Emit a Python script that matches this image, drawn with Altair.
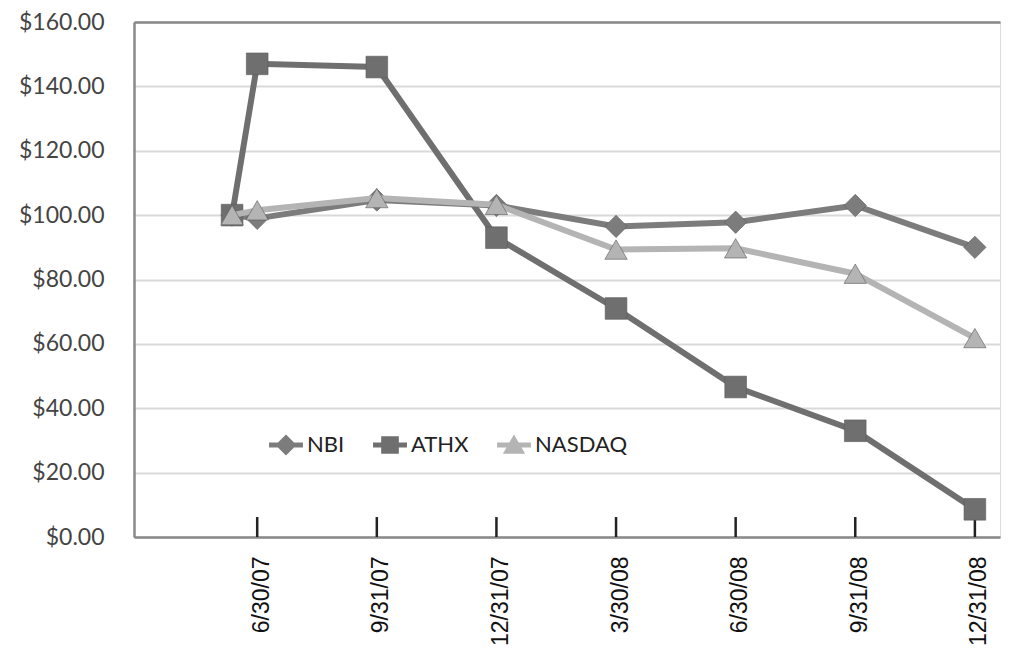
import altair as alt
import pandas as pd

# ---- data ----
tick_labels = ["6/30/07", "9/31/07", "12/31/07", "3/30/08", "6/30/08", "9/31/08", "12/31/08"]
x_pos = [-0.21, 0, 1, 2, 3, 4, 5, 6]  # first point is the starting value just before 6/30/07
nbi = [100, 99, 104.7, 103, 96.5, 97.8, 103, 90]
athx = [100, 147, 146, 93, 71, 46.6, 33, 8.6]
nasdaq = [100, 101.5, 105.3, 103.2, 89.3, 89.7, 81.8, 61.8]

series_names = ["NBI", "ATHX", "NASDAQ"]
series_vals = [nbi, athx, nasdaq]
colors = ["#7c7c7c", "#6f6f6f", "#b4b4b4"]
shapes = ["diamond", "square", "triangle-up"]
sizes = [500, 470, 500]

rows = []
for name, vals in zip(series_names, series_vals):
    for x, v in zip(x_pos, vals):
        rows.append({"series": name, "x": x, "value": v})
df = pd.DataFrame(rows)

ticks_df = pd.DataFrame({"x": list(range(len(tick_labels)))})

label_expr = "[" + ",".join("'" + t + "'" for t in tick_labels) + "][round(datum.value)]"

x_scale = alt.Scale(domain=[-1.03, 6.21], nice=False, zero=False)
y_scale = alt.Scale(domain=[0, 160], nice=False)

x_axis = alt.Axis(
    orient="bottom",
    values=list(range(len(tick_labels))), labelExpr=label_expr, title=None,
    labelAngle=270, labelAlign="right", labelBaseline="middle", labelPadding=19,
    labelOffset=4,
    labelFont="Liberation Sans", labelFontSize=23, labelColor="#111111",
    ticks=False, grid=False, domainColor="#8a8a8a", domainWidth=2.5,
)
y_axis = alt.Axis(
    values=list(range(0, 161, 20)), format="$,.2f", title=None,
    labelFont="Lato", labelFontSize=23, labelColor="#444444", labelPadding=30,
    ticks=False, grid=True, gridColor="#d9d9d9", gridWidth=2,
    domainColor="#8a8a8a", domainWidth=2.5,
)

layers = []

# inward tick marks on the x axis
ticks = alt.Chart(ticks_df).mark_rule(color="#222222", strokeWidth=2.5).encode(
    x=alt.X("x:Q", scale=x_scale, axis=x_axis),
    y=alt.datum(0, scale=y_scale, axis=y_axis),
    y2=alt.datum(6.2),
)
layers.append(ticks)

# top frame line
frame = alt.Chart(ticks_df).mark_rule(opacity=0).encode(
    x=alt.X("x:Q", scale=x_scale,
            axis=alt.Axis(orient="top", labels=False, ticks=False, grid=False, title=None,
                          domainColor="#8a8a8a", domainWidth=2.5)),
)
layers.append(frame)

for name, col, shp, sz in zip(series_names, colors, shapes, sizes):
    sub = alt.Chart(df).transform_filter(alt.datum.series == name)
    line = sub.mark_line(strokeWidth=6, color=col).encode(
        x=alt.X("x:Q", scale=x_scale, axis=None),
        y=alt.Y("value:Q", scale=y_scale),
    )
    pts = sub.mark_point(filled=True, opacity=1, color=col, size=sz, shape=shp,
                         stroke="#5a5a5a", strokeWidth=0.6).encode(
        x=alt.X("x:Q", scale=x_scale, axis=None),
        y=alt.Y("value:Q", scale=y_scale),
    )
    layers += [line, pts]

legend_paths = [
    "M-1,-0.15H1V0.15H-1Z M0,-0.62L0.62,0L0,0.62L-0.62,0Z",
    "M-1,-0.15H1V0.15H-1Z M-0.52,-0.52H0.52V0.52H-0.52Z",
    "M-1,-0.15H1V0.15H-1Z M0,-0.62L0.66,0.52H-0.66Z",
]
leg = alt.Legend(
    title=None, orient="none", direction="horizontal", legendX=135, legendY=406,
    labelFont="Lato", labelFontSize=22, labelColor="#222222",
    symbolSize=1150, symbolStrokeWidth=0, columnPadding=28, labelOffset=4,
)
legend_layer = alt.Chart(df).transform_filter("false").mark_point(filled=True, opacity=1).encode(
    x=alt.X("x:Q", scale=x_scale, axis=None),
    y=alt.Y("value:Q", scale=y_scale),
    color=alt.Color("series:N", scale=alt.Scale(domain=series_names, range=colors), legend=leg),
    shape=alt.Shape("series:N", scale=alt.Scale(domain=series_names, range=legend_paths), legend=leg),
)
layers.append(legend_layer)

chart = alt.layer(*layers).resolve_axis(x="independent").properties(
    width=866, height=515,
    autosize=alt.AutoSizeParams(type="none"),
    padding={"left": 126, "top": 14, "right": 1, "bottom": 110},
).configure_view(stroke=None).configure(background="white")

chart.save("out.html", embed_options={"renderer": "svg", "actions": False})
